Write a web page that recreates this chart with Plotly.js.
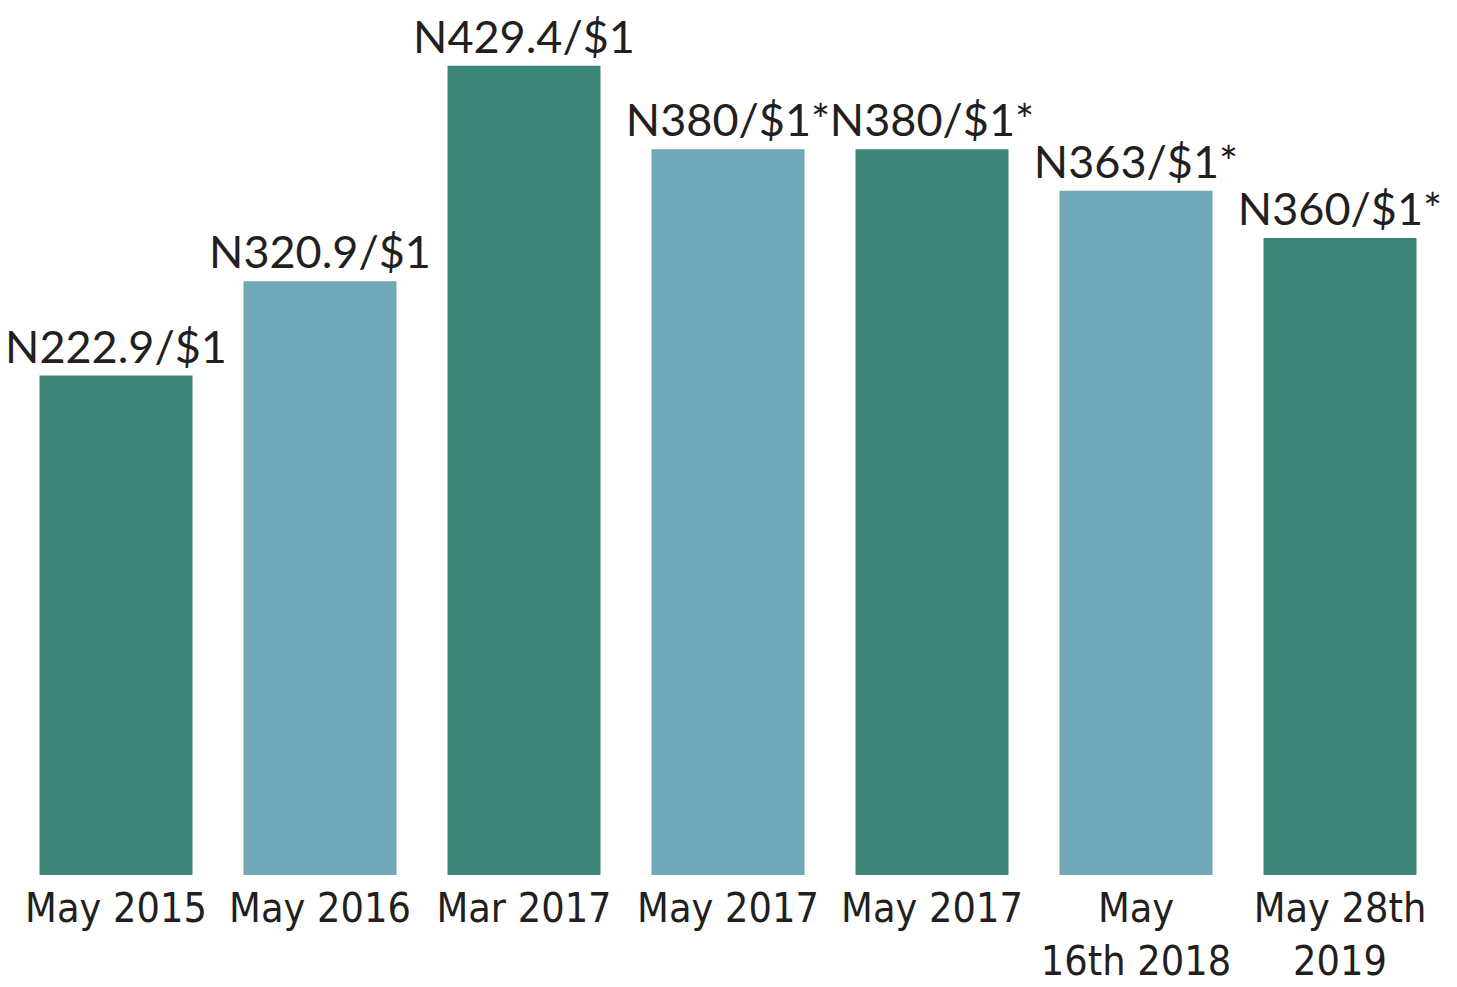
<!DOCTYPE html>
<html>
<head>
<meta charset="utf-8">
<script src="https://cdn.plot.ly/plotly-3.0.1.min.js"></script>
<style>html,body{margin:0;padding:0;background:#fff;}#chart{width:1457px;height:987px;}</style>
</head>
<body>
<div id="chart"></div>
<script>
// Tick labels (dates)
const dateLabels = ["May 2015", "May 2016", "Mar 2017", "May 2017", "May 2017", "May<br>16th 2018", "May 28th<br>2019"];
// Exchange-rate labels shown above bars
const rateLabels = ["N222.9/$1", "N320.9/$1", "N429.4/$1", "N380/$1*", "N380/$1*", "N363/$1*", "N360/$1*"];
// Bar heights as drawn in the picture (same units as the labels)
const barHeights = [265, 315, 429.4, 385, 385, 363, 338];
// Alternating colours
const barColors = ["#3d8576", "#6fa8b6", "#3d8576", "#6fa8b6", "#3d8576", "#6fa8b6", "#3d8576"];

const positions = dateLabels.map((_, i) => i);

const trace = {
  type: "bar",
  x: positions,
  y: barHeights,
  text: rateLabels,
  textposition: "outside",
  constraintext: "none",
  textfont: {family: "Lato, 'Open Sans', sans-serif", size: 45, color: "#231f20"},
  cliponaxis: false,
  marker: {color: barColors},
  hoverinfo: "skip"
};

const layout = {
  width: 1457,
  height: 987,
  margin: {l: 14, r: 15, t: 8, b: 112},
  paper_bgcolor: "#ffffff",
  plot_bgcolor: "#ffffff",
  bargap: 0.25,
  showlegend: false,
  xaxis: {
    range: [-0.5, 6.5],
    tickvals: positions,
    ticktext: dateLabels,
    tickangle: 0,
    automargin: false,
    ticklabelstandoff: 5,
    showgrid: false,
    zeroline: false,
    showline: false,
    ticks: "",
    tickfont: {family: "'DejaVu Sans Condensed', 'Liberation Sans Narrow', sans-serif", size: 41, color: "#231f20"}
  },
  yaxis: {
    range: [0, 460],
    visible: false,
    showgrid: false,
    zeroline: false
  }
};

Plotly.newPlot("chart", [trace], layout, {displayModeBar: false, staticPlot: true});
</script>
</body>
</html>
